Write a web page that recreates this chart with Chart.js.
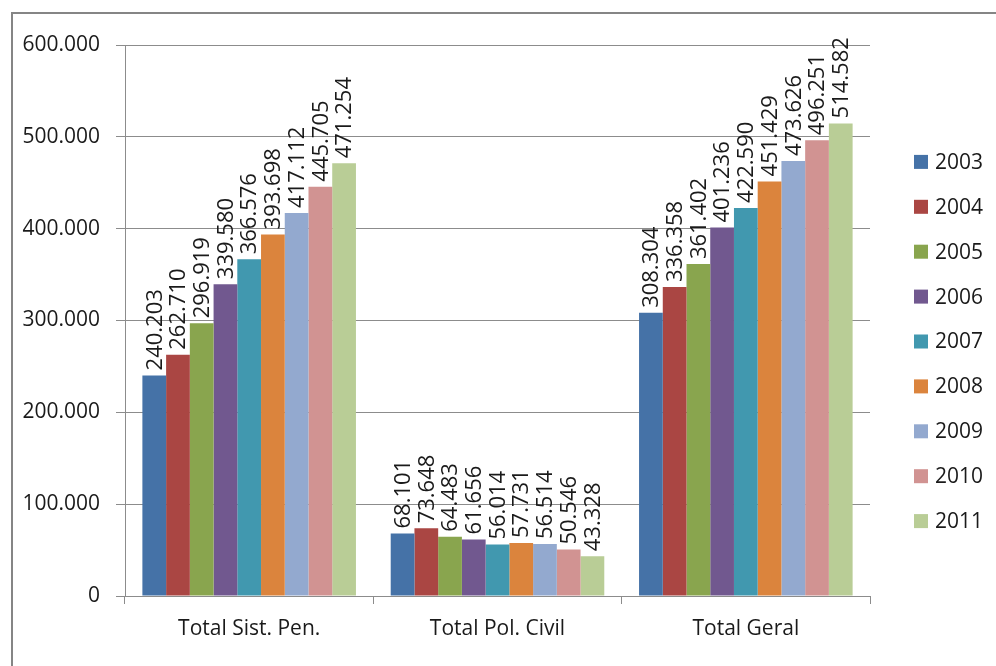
<!DOCTYPE html>
<html>
<head>
<meta charset="utf-8">
<script src="https://cdn.jsdelivr.net/npm/chart.js@4.4.1/dist/chart.umd.min.js"></script>
<style>
  html, body { margin: 0; padding: 0; background: #fff; }
  #wrap { position: relative; width: 996px; height: 666px; }
</style>
</head>
<body>
<div id="wrap"><canvas id="c" width="996" height="666"></canvas></div>
<script>
// Categories and yearly series
const categories = ['Total Sist. Pen.', 'Total Pol. Civil', 'Total Geral'];
const years = ['2003', '2004', '2005', '2006', '2007', '2008', '2009', '2010', '2011'];

const v2003 = [240203, 68101, 308304];
const v2004 = [262710, 73648, 336358];
const v2005 = [296919, 64483, 361402];
const v2006 = [339580, 61656, 401236];
const v2007 = [366576, 56014, 422590];
const v2008 = [393698, 57731, 451429];
const v2009 = [417112, 56514, 473626];
const v2010 = [445705, 50546, 496251];
const v2011 = [471254, 43328, 514582];

const seriesValues = [v2003, v2004, v2005, v2006, v2007, v2008, v2009, v2010, v2011];
const seriesColors = ['#4572A7', '#AA4643', '#89A54E', '#71588F', '#4198AF',
                      '#DB843D', '#93A9CF', '#D19392', '#B9CD96'];

const yTickMax = 600000;
const yTickStep = 100000;

const FONT = '"Open Sans", "Liberation Sans", sans-serif';
const FONT_SIZE = 21;
const LABEL_SIZE = 22;
const TEXT = '#1a1a1a';
const GRID = '#8c8c8c';

// thousands with a dot separator
function fmt(v) {
  return String(Math.round(v)).replace(/\B(?=(\d{3})+(?!\d))/g, '.');
}

// outer frame around the chart
const framePlugin = {
  id: 'frame',
  beforeDraw(chart) {
    const ctx = chart.ctx;
    ctx.save();
    ctx.fillStyle = '#ffffff';
    ctx.fillRect(0, 0, chart.width, chart.height);
    ctx.fillStyle = '#858585';
    ctx.fillRect(11, 12, chart.width - 11, 2);
    ctx.fillRect(11, 12, 2, chart.height - 12);
    ctx.restore();
  }
};

// vertical value labels above every bar
const valueLabels = {
  id: 'valueLabels',
  afterDatasetsDraw(chart) {
    const ctx = chart.ctx;
    ctx.save();
    ctx.font = LABEL_SIZE + 'px ' + FONT;
    ctx.fillStyle = TEXT;
    ctx.textAlign = 'left';
    ctx.textBaseline = 'middle';
    chart.data.datasets.forEach((ds, di) => {
      const meta = chart.getDatasetMeta(di);
      meta.data.forEach((bar, i) => {
        ctx.save();
        ctx.translate(bar.x + 1, bar.y - 5);
        ctx.rotate(-Math.PI / 2);
        ctx.fillText(fmt(ds.data[i]), 0, 0);
        ctx.restore();
      });
    });
    ctx.restore();
  }
};

// legend column on the right
const sideLegend = {
  id: 'sideLegend',
  afterDraw(chart) {
    const ctx = chart.ctx;
    const area = chart.chartArea;
    const boxX = area.right + 44;
    const step = 44.9;
    const n = chart.data.datasets.length;
    const firstY = 341.5 - step * (n - 1) / 2;
    ctx.save();
    ctx.font = FONT_SIZE + 'px ' + FONT;
    ctx.textAlign = 'left';
    ctx.textBaseline = 'middle';
    chart.data.datasets.forEach((ds, i) => {
      const y = firstY + i * step;
      ctx.fillStyle = ds.backgroundColor;
      ctx.fillRect(boxX, y - 7, 14, 14);
      ctx.fillStyle = TEXT;
      ctx.fillText(ds.label, boxX + 21, y + 1);
    });
    ctx.restore();
  }
};

const datasets = years.map((y, i) => ({
  label: y,
  data: seriesValues[i],
  backgroundColor: seriesColors[i],
  borderWidth: 0
}));

new Chart(document.getElementById('c'), {
  type: 'bar',
  data: { labels: categories, datasets },
  options: {
    responsive: false,
    animation: false,
    devicePixelRatio: 1,
    layout: { padding: { left: 0, right: 126, top: 45, bottom: 0 } },
    datasets: { bar: { categoryPercentage: 0.86, barPercentage: 1.0 } },
    plugins: { legend: { display: false }, tooltip: { enabled: false } },
    scales: {
      x: {
        offset: true,
        grid: { display: true, drawOnChartArea: false, drawTicks: true, tickLength: 8, color: GRID, offset: true },
        border: { display: true, color: GRID, width: 1 },
        ticks: { color: TEXT, font: { family: FONT, size: FONT_SIZE }, padding: 12, maxRotation: 0 },
        afterFit(scale) { scale.height = 70; }
      },
      y: {
        min: 0,
        max: yTickMax,
        ticks: {
          stepSize: yTickStep,
          color: TEXT,
          font: { family: FONT, size: FONT_SIZE },
          padding: 16,
          callback: (v) => fmt(v)
        },
        grid: { color: GRID, lineWidth: 1, tickLength: 9, drawTicks: true },
        border: { display: true, color: GRID, width: 1 },
        afterFit(scale) { scale.width = 125; }
      }
    }
  },
  plugins: [framePlugin, valueLabels, sideLegend]
});
</script>
</body>
</html>
